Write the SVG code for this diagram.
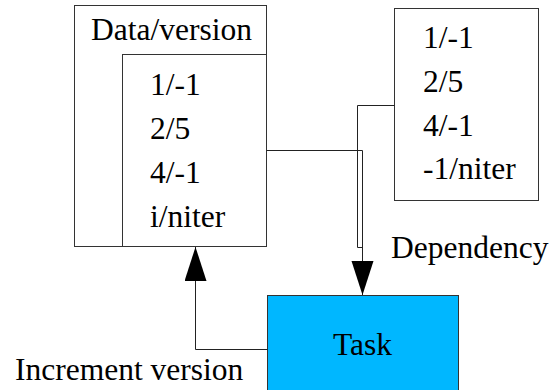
<svg xmlns="http://www.w3.org/2000/svg" width="552" height="390" viewBox="0 0 552 390">
<style>
text{font-family:'Liberation Serif','Times New Roman',serif;font-size:31.5px;fill:#000}
.box{fill:#fff;stroke:#333;stroke-width:1}
.task{fill:#00B7FF;stroke:#333;stroke-width:1}
.ln{fill:none;stroke:#222;stroke-width:1}
</style>
<defs>
<marker id="ah" markerUnits="userSpaceOnUse" markerWidth="36" markerHeight="24" viewBox="0 0 36 24" refX="34" refY="11" orient="auto">
<path d="M0,0 L34,11 L0,22 Z" fill="#000"/>
</marker>
</defs>
<rect width="552" height="390" fill="#fff"/>
<g id="data-version">
<rect class="box" x="74.5" y="5.5" width="192" height="241"/>
<text x="91" y="40">Data/version</text>
</g>
<g id="versions-local">
<rect class="box" x="122.5" y="54.5" width="144" height="192"/>
<text x="150" y="95">1/-1</text>
<text x="150" y="139">2/5</text>
<text x="150" y="183">4/-1</text>
<text x="150" y="227">i/niter</text>
</g>
<g id="versions-remote">
<rect class="box" x="394.5" y="8.5" width="144" height="192"/>
<text x="423" y="48">1/-1</text>
<text x="423" y="92">2/5</text>
<text x="423" y="136">4/-1</text>
<text x="423" y="179">-1/niter</text>
</g>
<g id="task">
<rect class="task" x="267.5" y="295.5" width="191" height="100"/>
<text x="333" y="355">Task</text>
</g>
<g id="connectors">
<path class="ln" d="M266.5,150.5 H362.5 V295" marker-end="url(#ah)"/>
<path class="ln" d="M394.5,105.5 H357.5 V247.5 H362.5"/>
<path class="ln" d="M267.5,349.5 H195.5 V247" marker-end="url(#ah)"/>
</g>
<g id="labels">
<text x="391" y="258">Dependency</text>
<text x="15" y="380">Increment version</text>
</g>
</svg>
